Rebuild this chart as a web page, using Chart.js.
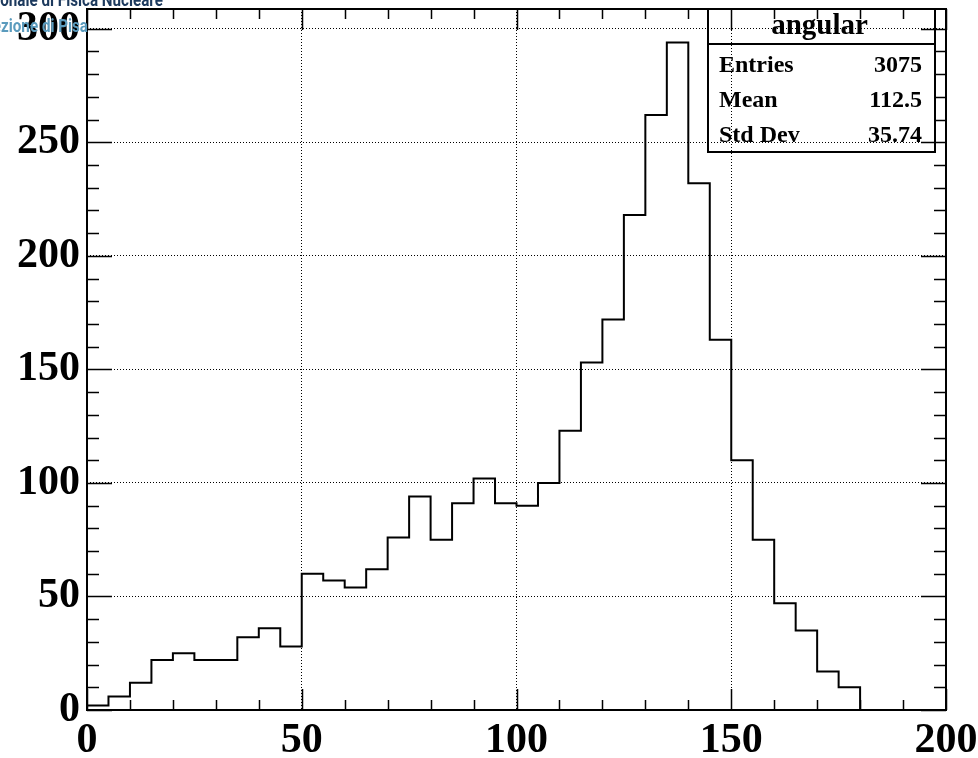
<!DOCTYPE html>
<html>
<head>
<meta charset="utf-8">
<title>angular</title>
<script src="https://cdn.jsdelivr.net/npm/chart.js"></script>
<style>
  html, body { margin: 0; padding: 0; background: #fff; }
  canvas { display: block; }
</style>
</head>
<body>
<canvas id="angularChart" width="978" height="758"></canvas>
<script>
// histogram "angular": lower edge of each 5 deg bin and its content
const binLow = [0, 5, 10, 15, 20, 25, 30, 35, 40, 45,
                50, 55, 60, 65, 70, 75, 80, 85, 90, 95,
                100, 105, 110, 115, 120, 125, 130, 135, 140, 145,
                150, 155, 160, 165, 170, 175];
const counts = [2, 6, 12, 22, 25, 22, 22, 32, 36, 28,
                60, 57, 54, 62, 76, 94, 75, 91, 102, 91,
                90, 100, 123, 153, 172, 218, 262, 294, 232, 163,
                110, 75, 47, 35, 17, 10];
const binWidth = 5;
const xRange = [0, 200];
const yRange = [0, 308.7];
const majorStep = 50;
const minorStep = 10;
const statsTitle = 'angular';
const statsNames = ['Entries', 'Mean', 'Std Dev'];
const statsValues = ['3075', '112.5', '35.74'];
const logoLines = ['Istituto Nazionale di Fisica Nucleare', 'Sezione di Pisa'];

const SERIF = '"Liberation Serif", "Times New Roman", serif';

// outline of the histogram, starting and ending on the baseline
var outline = [{x: binLow[0], y: 0}];
for (var i = 0; i < counts.length; i++) {
    outline.push({x: binLow[i], y: counts[i]});
}
outline.push({x: binLow[binLow.length - 1] + binWidth, y: 0});

function isMajor(v) {
    return Math.abs(v % majorStep) < 1e-6;
}

// ROOT like frame: box, inward ticks on all four sides, stats box, logo
const rootFrame = {
    id: 'rootFrame',
    afterDraw: function(chart) {
        var ctx = chart.ctx;
        var a = chart.chartArea;
        var xs = chart.scales.x;
        var ys = chart.scales.y;
        ctx.save();
        ctx.strokeStyle = '#000';
        ctx.lineWidth = 2;
        ctx.strokeRect(a.left, a.top, a.right - a.left, a.bottom - a.top);

        ctx.lineWidth = 1.5;
        ctx.beginPath();
        xs.ticks.forEach(function(t) {
            var px = Math.round(xs.getPixelForValue(t.value)) + 0.5;
            var len = isMajor(t.value) ? 21 : 10;
            ctx.moveTo(px, a.bottom); ctx.lineTo(px, a.bottom - len);
            ctx.moveTo(px, a.top); ctx.lineTo(px, a.top + len);
        });
        ys.ticks.forEach(function(t) {
            var py = Math.round(ys.getPixelForValue(t.value)) + 0.5;
            var len = isMajor(t.value) ? 25 : 12;
            ctx.moveTo(a.left, py); ctx.lineTo(a.left + len, py);
            ctx.moveTo(a.right, py); ctx.lineTo(a.right - len, py);
        });
        ctx.stroke();

        // stats box (no fill, the grid shows through)
        var bx = a.right - 238, by = a.top, bw = 227, bh = 143;
        ctx.lineWidth = 2;
        ctx.strokeRect(bx, by, bw, bh);
        ctx.beginPath();
        ctx.moveTo(bx, by + 35); ctx.lineTo(bx + bw, by + 35);
        ctx.stroke();
        ctx.fillStyle = '#000';
        ctx.textBaseline = 'alphabetic';
        ctx.textAlign = 'center';
        ctx.font = 'bold 29px ' + SERIF;
        ctx.fillText(statsTitle, bx + bw / 2 - 2, by + 25);
        ctx.font = 'bold 24px ' + SERIF;
        for (var i = 0; i < statsNames.length; i++) {
            var yy = by + 63 + i * 35;
            ctx.textAlign = 'left';
            ctx.fillText(statsNames[i], bx + 11, yy);
            ctx.textAlign = 'right';
            ctx.fillText(statsValues[i], bx + bw - 13, yy);
        }

        // clipped institute logo in the corner
        ctx.textAlign = 'right';
        ctx.font = 'bold 19px Roboto, "DejaVu Sans", sans-serif';
        ctx.save();
        ctx.translate(163, 6);
        ctx.scale(0.8, 1);
        ctx.fillStyle = '#1d3a5e';
        ctx.fillText(logoLines[0], 0, 0);
        ctx.restore();
        ctx.save();
        ctx.translate(88, 32);
        ctx.scale(0.8, 1);
        ctx.fillStyle = '#5b9bbd';
        ctx.fillText(logoLines[1], 0, 0);
        ctx.restore();
        ctx.restore();
    }
};

function gridColor(c) {
    if (!c.tick) return 'rgba(0,0,0,0)';
    var v = c.tick.value;
    return (isMajor(v) && v > c.scale.min && v < c.scale.max) ? '#000' : 'rgba(0,0,0,0)';
}

var ctx = document.getElementById('angularChart').getContext('2d');
var myHist = new Chart(ctx, {
    type: 'line',
    data: {
        datasets: [{
            label: statsTitle,
            data: outline,
            stepped: 'before',
            borderColor: '#000',
            borderWidth: 2,
            pointRadius: 0,
            fill: false,
            tension: 0
        }]
    },
    options: {
        responsive: false,
        animation: false,
        devicePixelRatio: 1,
        layout: { padding: { top: 9, right: 32, left: 0, bottom: 0 } },
        plugins: { legend: { display: false }, tooltip: { enabled: false } },
        scales: {
            x: {
                type: 'linear',
                min: xRange[0],
                max: xRange[1],
                afterFit: function(s) { s.height = 48; s.paddingLeft = 0; s.paddingRight = 0; },
                grid: { color: gridColor, lineWidth: 1, drawTicks: false },
                border: { display: false, dash: [1, 2] },
                ticks: {
                    stepSize: minorStep,
                    autoSkip: false,
                    maxRotation: 0,
                    includeBounds: false,
                    padding: 6,
                    color: '#000',
                    font: { family: SERIF, size: 42, weight: 'bold' },
                    callback: function(v) { return isMajor(v) ? v : ''; }
                }
            },
            y: {
                type: 'linear',
                min: yRange[0],
                max: yRange[1],
                afterFit: function(s) { s.width = 87; s.paddingTop = 0; s.paddingBottom = 0; },
                grid: { color: gridColor, lineWidth: 1, drawTicks: false },
                border: { display: false, dash: [1, 2] },
                ticks: {
                    stepSize: minorStep,
                    autoSkip: false,
                    includeBounds: false,
                    padding: 7,
                    color: '#000',
                    font: { family: SERIF, size: 42, weight: 'bold' },
                    callback: function(v) { return isMajor(v) ? v : ''; }
                }
            }
        }
    },
    plugins: [rootFrame]
});
</script>
</body>
</html>
